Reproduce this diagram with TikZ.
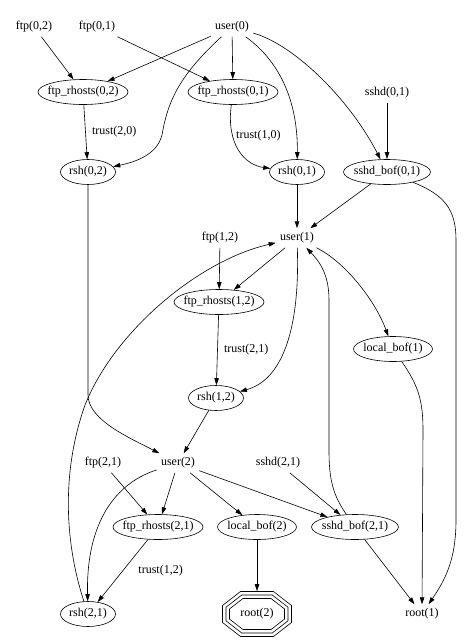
\documentclass[tikz,border=0pt]{standalone}
\usepackage{fontspec}
\setmainfont{Liberation Serif}
\usetikzlibrary{shapes.geometric,arrows.meta}
\tikzset{
  every node/.style={font=\fontsize{12}{14}\selectfont},
  oval/.style={draw, ellipse, inner xsep=-5pt, inner ysep=1pt, minimum height=25pt, minimum width=#1},
  oval/.default=55pt,
  plain/.style={inner sep=4pt},
  octo/.style={minimum width=69pt, minimum height=45pt, inner sep=0pt},
  >={Triangle[length=7pt,width=4.5pt]}
}
\begin{document}
\begin{tikzpicture}[x=1pt,y=-1pt,line width=0.6pt]
	\useasboundingbox (0,0) rectangle (474,643);
	% level 0
	\node[plain] (f02) at (34,27) {ftp(0,2)};
	\node[plain] (f01) at (97,27) {ftp(0,1)};
	\node[plain] (u0) at (232,27) {user(0)};
	\node[oval=90pt] (fr02) at (83,92) {ftp\_rhosts(0,2)};
	\node[oval=90pt] (fr01) at (233,92) {ftp\_rhosts(0,1)};
	\node[plain] (s01) at (387,93) {sshd(0,1)};
	\node[oval] (r02) at (88,172) {rsh(0,2)};
	\node[oval] (r01) at (297,172) {rsh(0,1)};
	\node[oval=87pt] (sb01) at (387,172) {sshd\_bof(0,1)};
	% level 1
	\node[plain] (u1) at (297,238) {user(1)};
	\node[plain] (f12) at (220,238) {ftp(1,2)};
	\node[oval=90pt] (fr12) at (219,302) {ftp\_rhosts(1,2)};
	\node[oval=79pt] (lb1) at (393,349) {local\_bof(1)};
	\node[oval] (r12) at (216,398) {rsh(1,2)};
	% level 2
	\node[plain] (u2) at (178,463) {user(2)};
	\node[plain] (f21) at (103,463) {ftp(2,1)};
	\node[plain] (s21) at (278,463) {sshd(2,1)};
	\node[oval=90pt] (fr21) at (158,527) {ftp\_rhosts(2,1)};
	\node[oval=79pt] (lb2) at (257,527) {local\_bof(2)};
	\node[oval=87pt] (sb21) at (355,527) {sshd\_bof(2,1)};
	\node[oval] (r21) at (88,614) {rsh(2,1)};
	\node[octo] (r2) at (257,614) {root(2)};
	\node[plain] (r1) at (422,614) {root(1)};
	\begin{scope}[shift={(r2.center)}]
	\foreach \d in {0,3.5,7}
		\draw (-16.5+0.35*\d,-22.5+\d) -- (16.5-0.35*\d,-22.5+\d) -- (34.5-\d,-8.5+0.49*\d) -- (34.5-\d,8.5-0.49*\d) -- (16.5-0.35*\d,22.5-\d) -- (-16.5+0.35*\d,22.5-\d) -- (-34.5+\d,8.5-0.49*\d) -- (-34.5+\d,-8.5+0.49*\d) -- cycle;
	\end{scope}
	% edges
	\draw[->] (f02) -- (fr02);
	\draw[->] (u0) -- (fr02);
	\draw[->] (f01) -- (fr01);
	\draw[->] (u0) -- (fr01);
	\draw[->] (u0) .. controls (180,75) and (168,100) .. (162,135) .. controls (157,155) and (135,162) .. (r02);
	\draw[->] (u0) .. controls (285,65) and (298,110) .. (r01);
	\draw[->] (u0) .. controls (295,45) and (350,100) .. (sb01);
	\draw[->] (s01) -- (sb01);
	\draw[->] (fr02) -- (r02) node[midway,right,xshift=3pt] {trust(2,0)};
	\draw[->] (fr01) .. controls (226,145) and (245,165) .. (r01) node[pos=0.3,right] {trust(1,0)};
	\draw[->] (r01) -- (u1);
	\draw[->] (sb01) -- (u1);
	\draw[->] (sb01) .. controls (445,195) and (456,210) .. (456,240) -- (456,520) .. controls (456,560) and (445,580) .. (r1);
	\draw[->] (r02) -- (88,395) .. controls (88,420) and (130,438) .. (u2);
	\draw[->] (f12) -- (fr12);
	\draw[->] (u1) -- (fr12);
	\draw[->] (fr12) -- (r12) node[midway,right,xshift=3pt] {trust(2,1)};
	\draw[->] (u1) .. controls (300,330) and (282,380) .. (r12);
	\draw[->] (u1) .. controls (345,262) and (375,300) .. (lb1);
	\draw[->] (lb1) .. controls (418,385) and (423,400) .. (423,430) -- (r1);
	\draw[->] (r12) -- (u2);
	\draw[->] (r21) .. controls (64,540) and (62,470) .. (85,405) .. controls (115,330) and (200,260) .. (u1);
	\draw[->] (sb21) .. controls (333,495) and (329,480) .. (329,450) -- (329,300) .. controls (329,275) and (320,262) .. (u1);
	\draw[->] (u2) .. controls (110,485) and (86,530) .. (r21);
	\draw[->] (u2) -- (fr21);
	\draw[->] (f21) -- (fr21);
	\draw[->] (u2) -- (lb2);
	\draw[->] (u2) -- (sb21);
	\draw[->] (s21) -- (sb21);
	\draw[->] (fr21) -- (r21) node[midway,right,xshift=12pt] {trust(1,2)};
	\draw[->] (lb2) -- (r2);
	\draw[->] (sb21) -- (r1);
\end{tikzpicture}
\end{document}
